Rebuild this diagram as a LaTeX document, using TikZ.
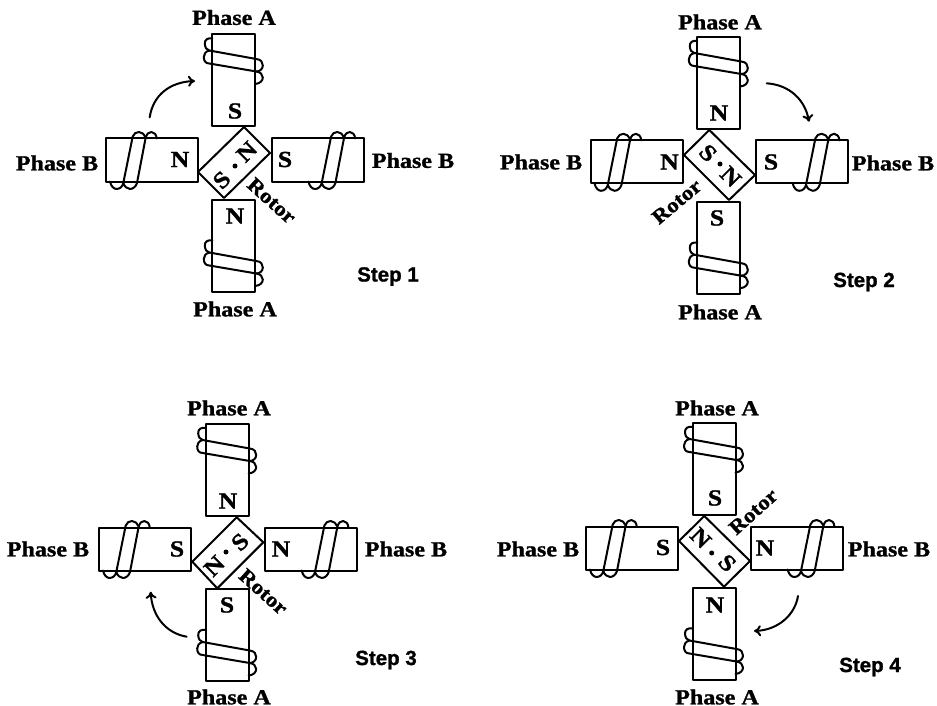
\documentclass[tikz,border=0pt]{standalone}
\usepackage{fontspec}
\newfontfamily\stepfont[FakeBold=1.2,UprightFont=* Bold]{Liberation Sans}
\newfontfamily\heavy[FakeStretch=1.12,FakeBold=1.2,UprightFont=* Bold]{Liberation Serif}
\usetikzlibrary{arrows.meta}
\tikzset{
  lineart/.style={line width=2pt,black,line cap=round,line join=round},
  vpolebox/.style={draw,lineart,rectangle,anchor=north west,minimum width=43pt,minimum height=92pt,inner sep=0pt,outer sep=0pt},
  hpolebox/.style={draw,lineart,rectangle,anchor=north west,minimum width=92pt,minimum height=43pt,inner sep=0pt,outer sep=0pt},
  phaselabel/.style={font=\heavy\fontsize{21.5}{24}\selectfont,inner sep=0pt},
  polelabel/.style={font=\heavy\fontsize{23}{26}\selectfont,inner sep=0pt},
  rotorlabel/.style={font=\heavy\fontsize{20.5}{22}\selectfont,inner sep=0pt},
  steplabel/.style={font=\stepfont\fontsize{20.5}{24}\selectfont,inner sep=0pt},
  rotordot/.style={circle,fill=black,inner sep=0pt,minimum size=5pt},
  turnarrow/.style={lineart,-{To[length=7pt,width=11pt]}},
}
\newcommand{\vcoil}[3]{%
  \begin{scope}[shift={(#1,#2)},yshift=-#3pt]
    \draw[lineart] (0,4) .. controls (-4,3) and (-8,5) .. (-7.5,9.5) .. controls (-7,13) and (-6,15.5) .. (-3,16) -- (44,24.5) .. controls (49,25) and (50.5,28) .. (50.5,31) .. controls (50.5,34) and (48,37) .. (44,37);
    \draw[lineart] (-3,16) .. controls (-7,17) and (-8.5,20) .. (-8.5,22.5) .. controls (-8.5,26) and (-7,29) .. (-3,29) -- (44,37) .. controls (48,37.5) and (50.5,40) .. (50.5,43) .. controls (50.5,46) and (48,49) .. (43,49.5);
  \end{scope}}
\newcommand{\hcoil}[3]{%
  \begin{scope}[shift={(#1,#2)},xshift=#3pt]
    \draw[lineart] (4,43) .. controls (5,48) and (8,50.5) .. (10.5,50.5) .. controls (14,50.5) and (16.5,48) .. (17.3,44.5) -- (26.7,-2) .. controls (28,-5) and (30,-6.5) .. (33,-6.5) .. controls (36,-6.5) and (38.5,-4) .. (39.7,-1) -- (31,44.5) .. controls (30,48) and (27,50.5) .. (24,50.5) .. controls (21,50.5) and (18.5,48) .. (17.3,44.5);
    \draw[lineart] (39.7,-1) .. controls (41,-5) and (43,-6.5) .. (45.5,-6.5) .. controls (48,-6.5) and (50.5,-4) .. (50.7,0);
  \end{scope}}
\newcommand{\rotorbox}[9]{%
  \coordinate (#1t) at (#2,#3);
  \coordinate (#1r) at (#4,#5);
  \coordinate (#1b) at (#6,#7);
  \coordinate (#1l) at (#8,#9);
  \draw[lineart] (#1t) -- (#1r) -- (#1b) -- (#1l) -- cycle;}
\begin{document}
\begin{tikzpicture}[x=1pt,y=-1pt]
\useasboundingbox (0,0) rectangle (937,706);
% ---------- Step 1
\node[vpolebox] (atop1) at (212.3,34.5) {};
\node[vpolebox] (abot1) at (212.3,199.5) {};
\node[hpolebox] (bleft1) at (106,138.5) {};
\node[hpolebox] (bright1) at (271.7,138.5) {};
\vcoil{212.3}{34.5}{0}\vcoil{212.3}{199.5}{37}
\hcoil{106}{138.5}{0}\hcoil{271.7}{138.5}{32.7}
\rotorbox{ra}{244}{127}{270}{153}{224}{198}{198}{172}
\node[polelabel] (pa1) at (235,111) {S};
\node[polelabel] (pb1) at (180,159.5) {N};
\node[polelabel] (pc1) at (285,159.5) {S};
\node[polelabel] (pd1) at (235,216) {N};
\node[polelabel,rotate=45] (rn1) at (246.7,151.7) {N};
\node[polelabel,rotate=45] (rs1) at (221.7,180) {S};
\node[rotordot] (dot1) at (235,166) {};
\node[rotorlabel,rotate=-42] (rot1) at (271.7,200.7) {Rotor};
\node[phaselabel] (la1) at (234,17.5) {Phase A};
\node[phaselabel] (lb1) at (235,309) {Phase A};
\node[phaselabel] (lc1) at (57,163) {Phase B};
\node[phaselabel] (ld1) at (413,160.5) {Phase B};
\node[steplabel] (st1) at (388,276.5) {Step 1};
\coordinate (as1) at (149.7,117.3);
\coordinate (ae1) at (195,81);
\draw[turnarrow] (as1) .. controls (153,95) and (170,82) .. (ae1);
% ---------- Step 2
\node[vpolebox] (atop2) at (697.3,37) {};
\node[vpolebox] (abot2) at (697.3,201.7) {};
\node[hpolebox] (bleft2) at (590.5,140.3) {};
\node[hpolebox] (bright2) at (756,140.3) {};
\vcoil{697.3}{37}{0}\vcoil{697.3}{201.7}{37}
\hcoil{590.5}{140.3}{0}\hcoil{756}{140.3}{32.7}
\rotorbox{rb}{709.3}{130}{755}{175}{729}{200}{684}{155}
\node[polelabel] (pa2) at (719,113) {N};
\node[polelabel] (pb2) at (669.5,162) {N};
\node[polelabel] (pc2) at (771,162) {S};
\node[polelabel] (pd2) at (717,218) {S};
\node[polelabel,rotate=-45] (rn2) at (730.7,176.7) {N};
\node[polelabel,rotate=-45] (rs2) at (708,153) {S};
\node[rotordot] (dot2) at (720,164) {};
\node[rotorlabel,rotate=40] (rot2) at (676.7,201.7) {Rotor};
\node[phaselabel] (la2) at (720,22) {Phase A};
\node[phaselabel] (lb2) at (720,312) {Phase A};
\node[phaselabel] (lc2) at (541,162) {Phase B};
\node[phaselabel] (ld2) at (893,163) {Phase B};
\node[steplabel] (st2) at (864,282) {Step 2};
\coordinate (as2) at (766.7,83.3);
\coordinate (ae2) at (809,121.7);
\draw[turnarrow] (as2) .. controls (790,85) and (805,100) .. (ae2);
% ---------- Step 3
\node[vpolebox] (atop3) at (205.7,424) {};
\node[vpolebox] (abot3) at (205.7,589) {};
\node[hpolebox] (bleft3) at (99,527.5) {};
\node[hpolebox] (bright3) at (265,527.5) {};
\vcoil{205.7}{424}{0}\vcoil{205.7}{589}{37}
\hcoil{99}{527.5}{0}\hcoil{265}{527.5}{32.7}
\rotorbox{rc}{236.7}{517.3}{263.3}{542.3}{217.3}{588.3}{192.3}{561.7}
\node[polelabel] (pa3) at (228,501) {N};
\node[polelabel] (pb3) at (177,549) {S};
\node[polelabel] (pc3) at (281,549) {N};
\node[polelabel] (pd3) at (227,605) {S};
\node[polelabel,rotate=45] (rn3) at (214.3,566) {N};
\node[polelabel,rotate=45] (rs3) at (240,542) {S};
\node[rotordot] (dot3) at (226,552) {};
\node[rotorlabel,rotate=-42] (rot3) at (263.3,591.7) {Rotor};
\node[phaselabel] (la3) at (229,408) {Phase A};
\node[phaselabel] (lb3) at (229,697) {Phase A};
\node[phaselabel] (lc3) at (48,549) {Phase B};
\node[phaselabel] (ld3) at (406,549) {Phase B};
\node[steplabel] (st3) at (386,660) {Step 3};
\coordinate (as3) at (186.7,636.7);
\coordinate (ae3) at (150.7,591.7);
\draw[turnarrow] (as3) .. controls (165,633) and (152,615) .. (ae3);
% ---------- Step 4
\node[vpolebox] (atop4) at (692.5,423) {};
\node[vpolebox] (abot4) at (692.5,587.5) {};
\node[hpolebox] (bleft4) at (586,526.5) {};
\node[hpolebox] (bright4) at (751,526.5) {};
\vcoil{692.5}{423}{0}\vcoil{692.5}{587.5}{37}
\hcoil{586}{526.5}{0}\hcoil{751}{526.5}{32.7}
\rotorbox{rd}{704.3}{516}{750}{561}{724}{586.7}{679}{541}
\node[polelabel] (pa4) at (715,498) {S};
\node[polelabel] (pb4) at (663,547.5) {S};
\node[polelabel] (pc4) at (765,548) {N};
\node[polelabel] (pd4) at (715,605) {N};
\node[polelabel,rotate=-45] (rn4) at (700.7,538) {N};
\node[polelabel,rotate=-45] (rs4) at (727.3,563) {S};
\node[rotordot] (dot4) at (711.7,553) {};
\node[rotorlabel,rotate=42] (rot4) at (753.3,511.7) {Rotor};
\node[phaselabel] (la4) at (717,408) {Phase A};
\node[phaselabel] (lb4) at (717,697) {Phase A};
\node[phaselabel] (lc4) at (538,549) {Phase B};
\node[phaselabel] (ld4) at (889,549) {Phase B};
\node[steplabel] (st4) at (870,667) {Step 4};
\coordinate (as4) at (798,596);
\coordinate (ae4) at (754,631);
\draw[turnarrow] (as4) .. controls (795,615) and (778,630) .. (ae4);
\end{tikzpicture}
\end{document}
